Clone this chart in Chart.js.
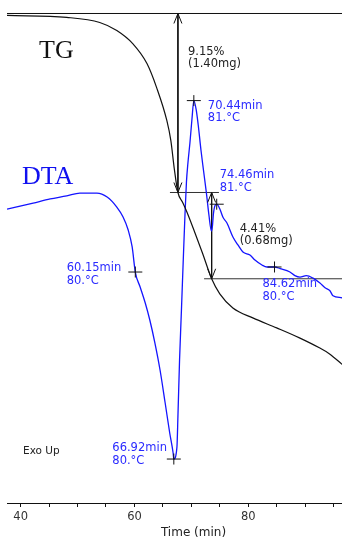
<!DOCTYPE html>
<html>
<head>
<meta charset="utf-8">
<script src="https://cdn.jsdelivr.net/npm/chart.js@4/dist/chart.umd.min.js"></script>
<style>
  html, body { margin: 0; padding: 0; background: #fff; }
  #wrap { width: 342px; height: 539px; overflow: hidden; position: relative; }
  canvas { display: block; }
</style>
</head>
<body>
<div id="wrap"><canvas id="c" width="380" height="539"></canvas></div>
<script>
// TG: sample weight (%) against time (min)
const tgTime   = [37.6, 48.1, 53.9, 56.9, 59.7, 62.2, 63.9, 65.7, 66.4, 67.0, 67.64, 68.5, 69.2, 70.3, 72.0, 73.57, 75.0, 77.3, 80.8, 85.0, 89.0, 92.5, 94.3, 96.4, 98.5];
const tgWeight = [99.9, 99.8, 99.54, 99.13, 98.46, 97.44, 96.21, 94.52, 93.5, 92.07, 90.85, 90.33, 89.87, 89.05, 87.72, 86.44, 85.67, 84.95, 84.44, 83.93, 83.42, 82.91, 82.6, 82.09, 81.55];

// DTA signal (µV) against time (min)
const dtaTime   = [37.6, 42.2, 45.2, 48.1, 50.4, 53.4, 55.2, 56.9, 58.0, 58.9, 59.6, 60.15, 61.0, 61.9, 62.7, 63.6, 64.5, 65.4, 66.2, 66.8, 66.92, 67.47, 67.64, 67.93, 68.26, 68.58, 68.88, 69.14, 69.4, 69.75, 70.11, 70.44, 70.85, 71.21, 71.69, 72.13, 72.65, 73.09, 73.53, 73.71, 73.88, 74.15, 74.46, 75.03, 75.56, 76.26, 77.31, 78.19, 79.07, 80.3, 81.18, 82.41, 83.29, 84.62, 85.6, 87.33, 88.2, 89.1, 90.2, 91.4, 92.6, 93.5, 94.36, 94.9, 96.5, 98.0];
const dtaSignal = [-10.78, -10.18, -9.78, -9.48, -9.19, -9.19, -9.58, -10.58, -11.57, -12.86, -14.55, -17.04, -18.53, -20.12, -21.81, -24.1, -26.78, -30.06, -33.04, -35.03, -35.63, -34.43, -31.45, -25.79, -20.82, -15.85, -11.37, -8.1, -6.2, -4.21, -1.83, 0.0, -0.9, -2.43, -4.91, -6.9, -9.19, -11.37, -12.96, -12.47, -11.27, -10.45, -10.3, -10.8, -11.6, -12.17, -13.56, -14.35, -15.05, -15.35, -15.85, -16.34, -16.54, -16.54, -16.7, -17.04, -17.4, -17.55, -17.4, -17.65, -18.13, -18.6, -18.9, -19.4, -19.6, -19.9];

// Marked DTA points
const peakTime   = [60.15, 66.92, 70.44, 74.46, 84.62];
const peakSignal = [-17.04, -35.63, 0.0, -10.3, -16.54];
const peakTemp   = ['80.°C', '80.°C', '81.°C', '81.°C', '80.°C'];

// TG steps: plateau levels (%), step times (min), mass losses
const tgLevels  = [100, 90.85, 86.44];
const stepTimes = [67.64, 73.57];
const stepLoss  = ['9.15%', '4.41%'];
const stepMass  = ['(1.40mg)', '(0.68mg)'];

// Time ticks (min)
const tickStep = 5;
const labelledTicks = [40, 60, 80];

const X_MIN = 37.6, X_MAX = 103.16;
const pts = (xs, ys) => xs.map((v, i) => ({ x: v, y: ys[i] }));
const SMALL = '"DejaVu Sans", sans-serif';
const BLUE_TEXT = '#2a2aff';

const datasets = [
  { data: pts(tgTime, tgWeight), yAxisID: 'yTG', borderColor: '#111', borderWidth: 1.2, cubicInterpolationMode: 'monotone' },
  { data: pts(dtaTime, dtaSignal), yAxisID: 'yDTA', borderColor: '#1414ff', borderWidth: 1.3, cubicInterpolationMode: 'monotone' },
  // plateau / tangent levels
  { data: [{ x: X_MIN, y: tgLevels[0] }, { x: X_MAX, y: tgLevels[0] }], yAxisID: 'yTG', borderColor: '#111', borderWidth: 1 },
  { data: [{ x: 66.24, y: tgLevels[1] }, { x: 74.85, y: tgLevels[1] }], yAxisID: 'yTG', borderColor: '#333', borderWidth: 1 },
  { data: [{ x: 72.24, y: tgLevels[2] }, { x: X_MAX, y: tgLevels[2] }], yAxisID: 'yTG', borderColor: '#333', borderWidth: 1 },
  // step arrows (shafts)
  { data: [{ x: stepTimes[0], y: tgLevels[0] }, { x: stepTimes[0], y: tgLevels[1] }], yAxisID: 'yTG', borderColor: '#111', borderWidth: 1 },
  { data: [{ x: stepTimes[1], y: tgLevels[1] }, { x: stepTimes[1], y: tgLevels[2] }], yAxisID: 'yTG', borderColor: '#111', borderWidth: 1 }
].map(d => Object.assign({ pointRadius: 0, fill: false, tension: 0 }, d));

function arrowHead(ctx, x, y, dir) {
  // open V head; dir = -1 points up, +1 points down
  ctx.beginPath();
  ctx.moveTo(x - 4, y - dir * 10);
  ctx.lineTo(x, y);
  ctx.lineTo(x + 4, y - dir * 10);
  ctx.stroke();
}

function text2(ctx, lines, x, cy, color, size) {
  ctx.fillStyle = color;
  ctx.font = size + 'px ' + SMALL;
  ctx.textAlign = 'left';
  ctx.textBaseline = 'alphabetic';
  lines.forEach((t, i) => ctx.fillText(t, x, cy + i * 12.5 + size * 0.36));
}

const labelOffsets = [[-68.6, -5], [-61.5, -12], [14, 4], [3, -30], [-12, 16]];

const annotate = {
  id: 'annotate',
  afterDatasetsDraw(chart) {
    const { ctx, chartArea, scales } = chart;
    const x = scales.x, yTG = scales.yTG, yDTA = scales.yDTA;
    ctx.save();
    ctx.strokeStyle = '#111';
    ctx.lineWidth = 1;

    // step arrows
    stepTimes.forEach((t, i) => {
      const px = x.getPixelForValue(t);
      const top = yTG.getPixelForValue(tgLevels[i]);
      const bot = yTG.getPixelForValue(tgLevels[i + 1]);
      arrowHead(ctx, px, top, -1);
      arrowHead(ctx, px, bot, 1);
    });
    // step labels
    const sx = [10, 28], sy = [37, 35];
    stepTimes.forEach((t, i) => {
      const px = x.getPixelForValue(t);
      const top = yTG.getPixelForValue(tgLevels[i]);
      text2(ctx, [stepLoss[i], stepMass[i]], px + sx[i], top + sy[i], '#222', 11.5);
    });

    // DTA marks and labels
    peakTime.forEach((t, i) => {
      const px = x.getPixelForValue(t);
      const py = yDTA.getPixelForValue(peakSignal[i]);
      ctx.strokeStyle = '#111';
      ctx.beginPath();
      ctx.moveTo(px - 7, py); ctx.lineTo(px + 7, py);
      ctx.moveTo(px, py - 5.5); ctx.lineTo(px, py + 5.5);
      ctx.stroke();
      const [dx, dy] = labelOffsets[i];
      text2(ctx, [t.toFixed(2) + 'min', peakTemp[i]], px + dx, py + dy, BLUE_TEXT, 11.5);
    });

    // curve names
    ctx.textAlign = 'left';
    ctx.textBaseline = 'alphabetic';
    ctx.font = '26px "Liberation Serif", serif';
    ctx.fillStyle = '#111';
    ctx.fillText('TG', chartArea.left + 32, 58);
    ctx.fillStyle = '#1010f0';
    ctx.fillText('DTA', chartArea.left + 15, 184);

    text2(ctx, ['Exo Up'], chartArea.left + 16, 450, '#222', 10.5);
    ctx.restore();
  }
};

new Chart(document.getElementById('c'), {
  type: 'line',
  data: { datasets },
  options: {
    responsive: false,
    devicePixelRatio: 1,
    animation: false,
    events: [],
    layout: { padding: { left: 7, right: 0, top: 0, bottom: 0 } },
    plugins: { legend: { display: false }, tooltip: { enabled: false } },
    scales: {
      x: {
        type: 'linear', min: X_MIN, max: X_MAX,
        afterFit(s) { s.height = 36; },
        border: { display: true, color: '#111', width: 1 },
        grid: { display: true, drawOnChartArea: false, drawTicks: true, tickLength: 4, color: '#111' },
        ticks: {
          stepSize: tickStep, includeBounds: false, autoSkip: false, maxRotation: 0, padding: 3,
          color: '#333', font: { family: SMALL, size: 11.5 },
          callback: v => labelledTicks.includes(v) ? String(v) : ''
        },
        title: { display: true, text: 'Time (min)', color: '#222', padding: 0, font: { family: SMALL, size: 12, lineHeight: 1 } }
      },
      yTG: { type: 'linear', display: false, min: 74.978, max: 100.69 },
      yDTA: { type: 'linear', display: false, min: -40, max: 10 }
    }
  },
  plugins: [annotate]
});
</script>
</body>
</html>
